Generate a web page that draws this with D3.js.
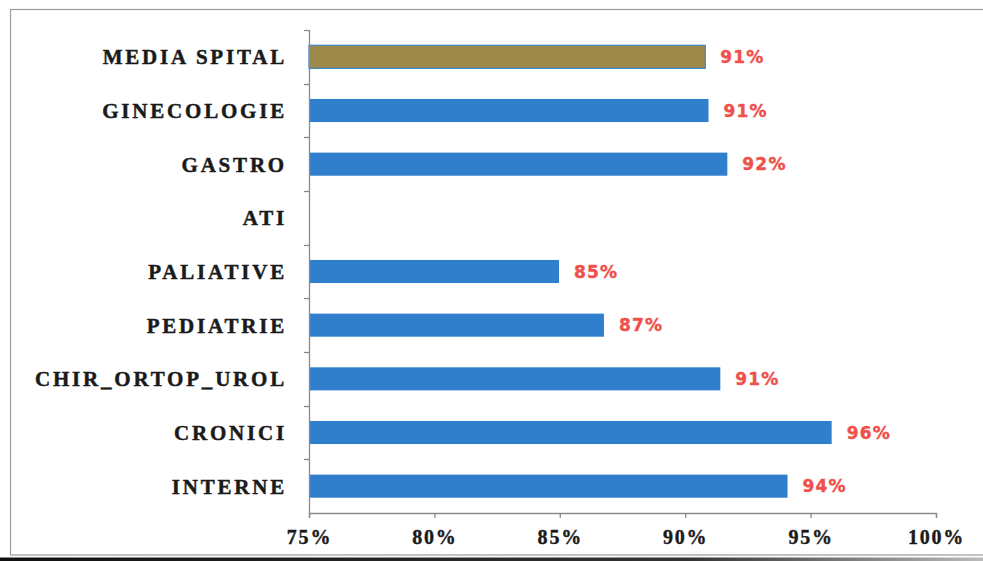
<!DOCTYPE html>
<html>
<head>
<meta charset="utf-8">
<script src="https://cdn.jsdelivr.net/npm/d3@7"></script>
<style>
  html, body { margin: 0; padding: 0; background: #fff; }
  svg { display: block; }
</style>
</head>
<body>
<svg id="chart" width="983" height="561"></svg>
<script>
// Departments, top to bottom
const categories = ["MEDIA SPITAL", "GINECOLOGIE", "GASTRO", "ATI", "PALIATIVE",
                    "PEDIATRIE", "CHIR_ORTOP_UROL", "CRONICI", "INTERNE"];
// Share per department (null = no value reported)
const values = [0.908, 0.9093, 0.9168, null, 0.8497, 0.8676, 0.914, 0.9584, 0.9408];
// Axis ticks
const tickValues = [0.75, 0.80, 0.85, 0.90, 0.95, 1.00];

const svg = d3.select("#chart");
const W = 983, H = 561;

// Outer frame
svg.append("rect").attr("x", 10.5).attr("y", 9.5).attr("width", 990).attr("height", 545.5)
  .attr("fill", "none").attr("stroke", "#9a9a9a").attr("stroke-width", 1.2);
// Dark strip along the bottom edge
const grad = svg.append("defs").append("linearGradient").attr("id", "edge");
grad.append("stop").attr("offset", "0%").attr("stop-color", "#111");
grad.append("stop").attr("offset", "70%").attr("stop-color", "#333");
grad.append("stop").attr("offset", "100%").attr("stop-color", "#bbb");
svg.append("rect").attr("x", 0).attr("y", 557.5).attr("width", W).attr("height", 3.5)
  .attr("fill", "url(#edge)");

const x = d3.scaleLinear().domain([0.75, 1.0]).range([309, 936]);
const y = d3.scaleBand().domain(categories).range([30, 513]).paddingInner(0.57).paddingOuter(0.285);
const yb = d3.scaleBand().domain(categories).range([30, 513]);

const data = categories.map((c, i) => ({ cat: c, v: values[i] }));

// Bars
svg.append("g").selectAll("rect")
  .data(data.filter(d => d.v != null))
  .join("rect")
  .attr("x", x(0.75))
  .attr("y", d => y(d.cat))
  .attr("width", d => x(d.v) - x(0.75))
  .attr("height", y.bandwidth())
  .attr("fill", d => d.cat === "MEDIA SPITAL" ? "#9e8a48" : "#2f7fcd")
  .attr("stroke", d => d.cat === "MEDIA SPITAL" ? "#3a86c8" : "none")
  .attr("stroke-width", 1.2);

// Value labels
const fmt = d3.format(".0%");
svg.append("g").selectAll("text")
  .data(data.filter(d => d.v != null))
  .join("text")
  .attr("x", d => x(d.v) + 15)
  .attr("y", d => y(d.cat) + y.bandwidth() / 2)
  .attr("dy", "0.36em")
  .attr("font-family", "'DejaVu Sans', Verdana, sans-serif")
  .attr("font-weight", "bold")
  .attr("font-size", 17)
  .attr("letter-spacing", 1.2)
  .attr("fill", "#f0504c")
  .attr("stroke", "#f0504c")
  .attr("stroke-width", 0.4)
  .text(d => fmt(d.v));

// Y axis: line with outward ticks at category boundaries
const yAxis = svg.append("g");
yAxis.append("line").attr("x1", 309.5).attr("x2", 309.5).attr("y1", 30).attr("y2", 513)
  .attr("stroke", "#8a8a8a").attr("stroke-width", 1.3);
yAxis.selectAll("line.tk")
  .data(categories.map(c => yb(c)))
  .join("line").attr("class", "tk")
  .attr("x1", 304).attr("x2", 309.5)
  .attr("y1", d => Math.round(d) + 0.5).attr("y2", d => Math.round(d) + 0.5)
  .attr("stroke", "#8a8a8a").attr("stroke-width", 1.3);
yAxis.selectAll("text")
  .data(categories)
  .join("text")
  .attr("x", 287)
  .attr("y", d => yb(d) + yb.bandwidth() / 2)
  .attr("dy", "0.35em")
  .attr("text-anchor", "end")
  .attr("font-family", "'Liberation Serif', 'Times New Roman', serif")
  .attr("font-weight", "bold")
  .attr("font-size", 21)
  .attr("letter-spacing", 2.8)
  .attr("fill", "#1a1a1a")
  .attr("stroke", "#1a1a1a")
  .attr("stroke-width", 0.45)
  .text(d => d);

// X axis
const xAxis = svg.append("g").attr("transform", "translate(0,513)")
  .call(d3.axisBottom(x).tickValues(tickValues).tickFormat(fmt).tickSizeInner(5).tickSizeOuter(5).tickPadding(12));
xAxis.select(".domain").attr("stroke", "#8a8a8a").attr("stroke-width", 1.3);
xAxis.selectAll(".tick line").attr("stroke", "#8a8a8a").attr("stroke-width", 1.3);
xAxis.selectAll(".tick text")
  .attr("font-family", "'Liberation Serif', 'Times New Roman', serif")
  .attr("font-weight", "bold")
  .attr("font-size", 20)
  .attr("letter-spacing", 1.8)
  .attr("fill", "#1a1a1a")
  .attr("stroke", "#1a1a1a")
  .attr("stroke-width", 0.4);
</script>
</body>
</html>
